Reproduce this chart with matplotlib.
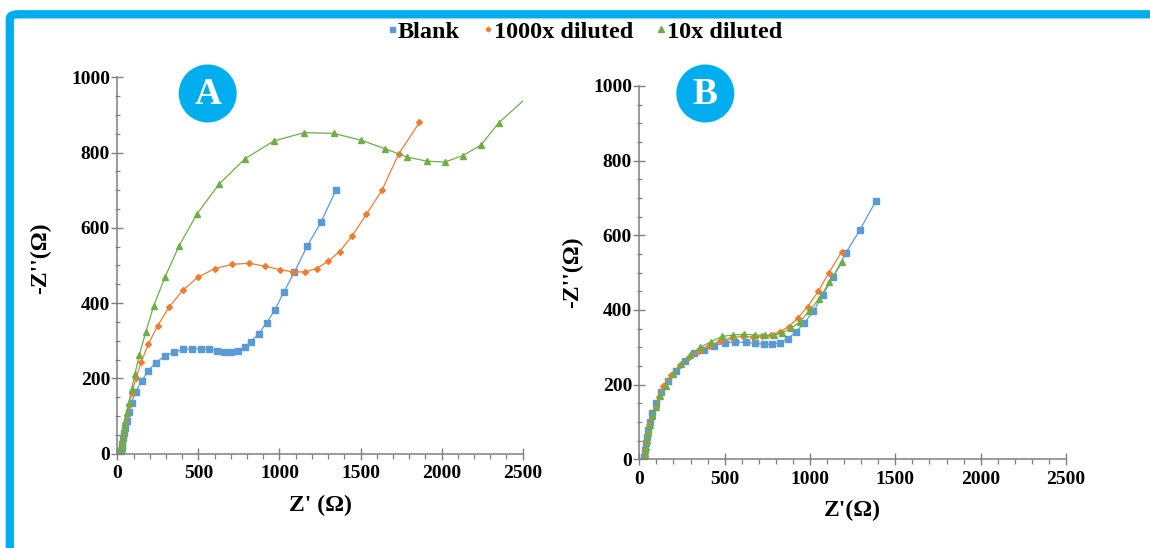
import matplotlib
matplotlib.use("Agg")
import matplotlib.pyplot as plt
from matplotlib.lines import Line2D
from matplotlib.patches import Ellipse, FancyBboxPatch
from matplotlib.ticker import MultipleLocator

plt.rcParams["font.family"] = ["Liberation Serif", "DejaVu Serif"]
plt.rcParams["font.weight"] = "bold"

# Nyquist data, panel A
a_blank_x = [23, 27, 31, 37, 41, 47, 58, 72, 88, 113, 150, 189, 238, 294, 352, 407, 460, 514,
             567, 615, 660, 701, 742, 785, 824, 872, 921, 972, 1026, 1092, 1170, 1256, 1348]
a_blank_y = [5, 16, 27, 41, 54, 68, 88, 110, 136, 165, 193, 220, 242, 260, 270, 277, 279, 279,
             277, 274, 270, 270, 274, 283, 298, 319, 348, 382, 429, 482, 551, 615, 700]
a_k1000_x = [21, 25, 29, 35, 41, 49, 60, 72, 90, 115, 148, 191, 249, 319, 403, 498, 602, 709,
             814, 913, 1003, 1086, 1157, 1229, 1299, 1371, 1449, 1536, 1632, 1735, 1863]
a_k1000_y = [3, 14, 29, 45, 61, 81, 104, 129, 162, 200, 244, 291, 340, 389, 434, 469, 492, 503,
             506, 498, 489, 483, 483, 492, 511, 537, 579, 636, 700, 796, 880]
a_k10_x = [23, 25, 29, 33, 39, 47, 58, 72, 88, 109, 136, 175, 224, 294, 382, 493, 629, 789,
           966, 1153, 1334, 1503, 1653, 1787, 1912, 2021, 2130, 2243, 2352, 2560]
a_k10_y = [8, 19, 32, 48, 66, 85, 108, 136, 171, 212, 263, 322, 392, 469, 553, 638, 717, 784,
           831, 853, 851, 833, 810, 788, 777, 775, 792, 820, 879, 960]

# Nyquist data, panel B
b_blank_x = [29, 33, 37, 43, 51, 62, 76, 100, 129, 170, 217, 266, 322, 377, 438, 500, 561, 623,
             678, 729, 779, 824, 869, 918, 965, 1020, 1074, 1135, 1209, 1291, 1387]
b_blank_y = [7, 25, 43, 61, 79, 101, 125, 152, 181, 210, 237, 264, 284, 294, 304, 312, 314, 313,
             311, 308, 308, 312, 323, 341, 365, 396, 439, 488, 552, 613, 693]
b_k1000_x = [31, 35, 41, 49, 59, 74, 96, 115, 137, 186, 238, 293, 352, 410, 475, 543, 605, 666,
             721, 773, 824, 875, 930, 986, 1049, 1111, 1186]
b_k1000_y = [5, 25, 47, 70, 92, 114, 141, 168, 196, 226, 253, 273, 291, 304, 317, 326, 329, 328,
             329, 332, 342, 355, 379, 409, 450, 500, 556]
b_k10_x = [31, 33, 37, 43, 51, 61, 74, 96, 123, 154, 195, 244, 297, 357, 420, 484, 551, 615,
           678, 734, 787, 838, 889, 943, 996, 1053, 1113, 1190]
b_k10_y = [3, 18, 34, 52, 71, 92, 116, 141, 170, 197, 228, 254, 279, 300, 315, 329, 333, 335,
           333, 332, 332, 339, 351, 369, 398, 429, 474, 529]

LABELS = ["Blank", "1000x diluted", "10x diluted"]
COLORS = ["#5B9BD5", "#ED7D31", "#70AD47"]
MARKERS = [("s", 4.5), ("D", 3.0), ("^", 4.8)]
BADGE = "#00AEEF"
AXCOL = "#808080"

W, H = 1150, 548
fig = plt.figure(figsize=(W / 100, H / 100), dpi=100)


def fx(px):
    return px / W


def fy(py):
    return 1 - py / H


panels = [
    dict(rect=(117.3, 77.3, 522.7, 453.7), data=[(a_blank_x, a_blank_y), (a_k1000_x, a_k1000_y),
                                                 (a_k10_x, a_k10_y)],
         xlabel="Z' (\u03a9)", badge="A", bc=(207.7, 93.5), ylab=(41, 258)),
    dict(rect=(639.3, 86.0, 1066.0, 459.3), data=[(b_blank_x, b_blank_y), (b_k1000_x, b_k1000_y),
                                                  (b_k10_x, b_k10_y)],
         xlabel="Z'(\u03a9)", badge="B", bc=(705.3, 93.5), ylab=(573, 272)),
]

for p in panels:
    x0, y0, x1, y1 = p["rect"]
    ax = fig.add_axes([fx(x0), fy(y1), fx(x1 - x0), (y1 - y0) / H])
    for (xs, ys), col, (mk, ms) in zip(p["data"], COLORS, MARKERS):
        ax.plot(xs, ys, color=col, lw=0.9, marker=mk, ms=ms, mec=col, mfc=col)
    ax.set_xlim(0, 2500)
    ax.set_ylim(0, 1000)
    ax.xaxis.set_major_locator(MultipleLocator(500))
    ax.xaxis.set_minor_locator(MultipleLocator(100))
    ax.yaxis.set_major_locator(MultipleLocator(200))
    ax.yaxis.set_minor_locator(MultipleLocator(50))
    for s in ("top", "right"):
        ax.spines[s].set_visible(False)
    for s in ("left", "bottom"):
        ax.spines[s].set_color(AXCOL)
        ax.spines[s].set_linewidth(1.1)
    ax.tick_params(which="major", direction="inout", length=8.5, width=1.0, color=AXCOL,
                   labelsize=14, labelcolor="black")
    ax.tick_params(axis="x", which="major", pad=4)
    ax.tick_params(axis="y", which="major", pad=1)
    ax.tick_params(axis="y", which="minor", direction="inout", length=3.6, width=0.9, color=AXCOL)
    ax.tick_params(axis="x", which="minor", direction="out", length=3.6, width=0.9, color=AXCOL)
    for lab in ax.get_xticklabels() + ax.get_yticklabels():
        lab.set_fontweight("bold")
    ax.set_xlabel(p["xlabel"], fontsize=17, fontweight="bold", labelpad=9)
    ax.patch.set_alpha(0)
    # y label placed in figure coordinates so both panels sit at the same offsets
    lx, ly = p["ylab"]
    fig.text(fx(lx), fy(ly), "-Z''(\u03a9)", rotation=90,
             ha="center", va="center", fontsize=17, fontweight="bold")
    # circular panel badge
    cx, cy = p["bc"]
    r = 29
    fig.patches.append(Ellipse((fx(cx), fy(cy)), 2 * r / W, 2 * r / H, transform=fig.transFigure,
                               facecolor=BADGE, edgecolor="none", zorder=5))
    fig.text(fx(cx), fy(cy + 1), p["badge"], color="white", fontsize=27, fontweight="bold",
             ha="center", va="center", zorder=6)

# blue frame along top and left edges
fig.patches.append(FancyBboxPatch((fx(9.8), -0.2), 1.2, fy(14.3) + 0.2,
                                  boxstyle="round,pad=0,rounding_size=0.008",
                                  transform=fig.transFigure, facecolor="none",
                                  edgecolor=BADGE, linewidth=6.0, zorder=0))

handles = [Line2D([], [], ls="none", marker=mk, ms=ms * 0.8, color=c, mec=c)
           for c, (mk, ms) in zip(COLORS, MARKERS)]
fig.legend(handles, LABELS, loc="center", bbox_to_anchor=(fx(585), fy(32)), ncol=3,
           frameon=False, prop=dict(size=17.5, weight="bold"), handlelength=0.35,
           handletextpad=0.05, columnspacing=1.0)

fig.savefig("out.png", dpi=100)
